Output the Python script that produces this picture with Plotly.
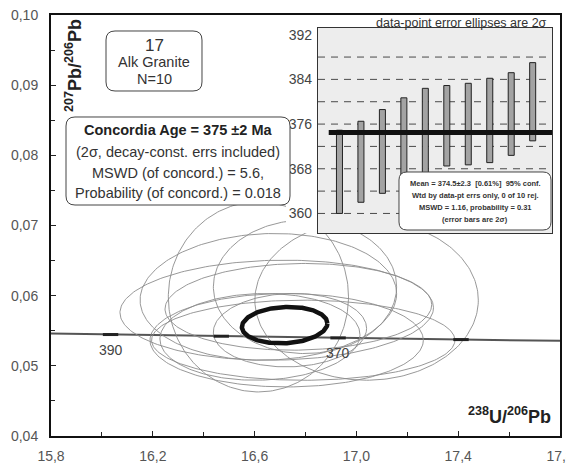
import numpy as np
import plotly.graph_objects as go

# ---------------- data ----------------
x_range = [15.8, 17.8]
y_range = [0.04, 0.10]

# concordia curve (238U/206Pb vs 207Pb/206Pb)
concordia_x = [15.80, 16.034, 16.469, 16.928, 17.411, 17.80]
concordia_y = [0.05460, 0.05446, 0.05422, 0.05398, 0.05374, 0.05356]

# age ticks on concordia (Ma)
age_marks = [390, 380, 370, 360]
age_mark_x = [16.034, 16.469, 16.928, 17.411]
age_mark_y = [0.05446, 0.05422, 0.05398, 0.05374]
labelled_ages = [390, 370]

# data-point 2-sigma error ellipses
ell_cx = [16.615, 17.040, 16.798, 16.654, 16.687, 16.772, 16.791, 16.726, 16.739, 16.621]
ell_cy = [0.05983, 0.05936, 0.06126, 0.05983, 0.05793, 0.05841, 0.05365, 0.05365, 0.05508, 0.05413]
ell_ax = [0.354, 0.439, 0.360, 0.504, 0.616, 0.524, 0.596, 0.537, 0.301, 0.393]
ell_by = [0.01355, 0.01141, 0.00951, 0.00903, 0.00713, 0.00618, 0.00571, 0.00666, 0.00523, 0.00618]
ell_rho = [0.0, 0.0, 0.0, 0.05, 0.05, 0.05, 0.0, 0.0, 0.05, 0.05]

# concordia age ellipse
conc_cx, conc_cy = 16.718, 0.0558
conc_ax, conc_by, conc_rho = 0.168, 0.0026, 0.1

# inset: weighted mean of 206Pb/238U ages (Ma), 2-sigma bars
spot_index = [1, 2, 3, 4, 5, 6, 7, 8, 9, 10]
spot_top = [374.9, 376.5, 378.6, 380.7, 382.4, 382.9, 383.3, 384.2, 385.2, 387.0]
spot_bottom = [360.0, 362.0, 363.6, 366.0, 365.5, 368.5, 368.7, 369.1, 370.4, 373.0]
mean_age = 374.5
inset_x_range = [0, 10.9]
inset_y_range = [356.5, 393.2]
inset_y_ticks = [360, 368, 376, 384, 392]
inset_grid = [360, 364, 368, 372, 376, 380, 384, 388]

# ---------------- helpers (positions given in page pixels) ----------------
OFF = 8                      # default body margin of the html page
W, H = 566, 458
ML, MT = 51 - OFF, 15 - OFF
MR = W - (560 - OFF)
MB = H - (436 - OFF)
PW, PH = W - ML - MR, H - MT - MB


def px(x):
    return (x - OFF - ML) / PW


def py(y):
    return (H - MB - (y - OFF)) / PH


def rrect(x0, y0, x1, y1, r):
    pts = [
        ("M", [(x0 + r, y0)]), ("L", [(x1 - r, y0)]), ("Q", [(x1, y0), (x1, y0 + r)]),
        ("L", [(x1, y1 - r)]), ("Q", [(x1, y1), (x1 - r, y1)]), ("L", [(x0 + r, y1)]),
        ("Q", [(x0, y1), (x0, y1 - r)]), ("L", [(x0, y0 + r)]), ("Q", [(x0, y0), (x0 + r, y0)]),
    ]
    s = ""
    for cmd, ps in pts:
        s += cmd + " " + " ".join(f"{px(a):.5f},{py(b):.5f}" for a, b in ps) + " "
    return s + "Z"


def ellipse(cx, cy, ax, by, rho, n=241):
    t = np.linspace(0, 2 * np.pi, n)
    return cx + ax * np.cos(t), cy + by * (rho * np.cos(t) + np.sqrt(1 - rho ** 2) * np.sin(t))


FONT = "Liberation Sans, Arial, sans-serif"
fig = go.Figure()

# concordia
fig.add_trace(go.Scatter(x=concordia_x, y=concordia_y, mode="lines",
                         line=dict(color="#555555", width=2), hoverinfo="skip", showlegend=False))
# ellipses
for cx, cy, ax, by, rho in zip(ell_cx, ell_cy, ell_ax, ell_by, ell_rho):
    ex, ey = ellipse(cx, cy, ax, by, rho)
    fig.add_trace(go.Scatter(x=ex, y=ey, mode="lines", line=dict(color="#8c8c8c", width=0.9),
                             hoverinfo="skip", showlegend=False))
ex, ey = ellipse(conc_cx, conc_cy, conc_ax, conc_by, conc_rho)
fig.add_trace(go.Scatter(x=ex, y=ey, mode="lines", line=dict(color="#111111", width=4.5),
                         hoverinfo="skip", showlegend=False))
# age marks
fig.add_trace(go.Scatter(x=age_mark_x, y=age_mark_y, mode="markers",
                         marker=dict(symbol="line-ew-open", size=11, color="#222222",
                                     line=dict(color="#222222", width=3)),
                         hoverinfo="skip", showlegend=False))

# backdrop subplot (white cover behind inset)
fig.add_trace(go.Scatter(x=[None], y=[None], xaxis="x2", yaxis="y2", showlegend=False, hoverinfo="skip"))

# inset bars
fig.add_trace(go.Bar(x=spot_index, base=spot_bottom,
                     y=[t - b for t, b in zip(spot_top, spot_bottom)],
                     width=0.28, xaxis="x3", yaxis="y3",
                     marker=dict(color="#a3a3a3", line=dict(color="#222222", width=1)),
                     hoverinfo="skip", showlegend=False))
fig.add_trace(go.Scatter(x=[0.5, inset_x_range[1]], y=[mean_age, mean_age], mode="lines",
                         xaxis="x3", yaxis="y3", line=dict(color="#111111", width=5),
                         hoverinfo="skip", showlegend=False))

shapes = []
shapes.append(dict(type="rect", xref="x3", yref="y3", x0=inset_x_range[0], x1=inset_x_range[1],
                   y0=inset_y_range[0], y1=inset_y_range[1], fillcolor="#ededed",
                   line=dict(width=0), layer="below"))
for g in inset_grid:
    shapes.append(dict(type="line", xref="x3", yref="y3", x0=inset_x_range[0], x1=inset_x_range[1],
                       y0=g, y1=g, line=dict(color="#4a4a4a", width=1, dash="7px,6px"), layer="below"))
# boxes
shapes.append(dict(type="path", xref="paper", yref="paper", path=rrect(106, 31, 202, 91, 9),
                   fillcolor="white", line=dict(color="#444444", width=1), layer="above"))
shapes.append(dict(type="path", xref="paper", yref="paper", path=rrect(66, 117, 290, 205, 9),
                   fillcolor="white", line=dict(color="#444444", width=1), layer="above"))
shapes.append(dict(type="path", xref="paper", yref="paper", path=rrect(399, 172, 551, 230, 8),
                   fillcolor="white", line=dict(color="#444444", width=1), layer="above"))

ann = []


def text(x, y, s, size, bold=False, xanchor="center", color="#333333", angle=0):
    ann.append(dict(x=px(x), y=py(y), xref="paper", yref="paper", text=(f"<b>{s}</b>" if bold else s),
                    showarrow=False, xanchor=xanchor, yanchor="middle", textangle=angle,
                    font=dict(family=FONT, size=size, color=color)))


# sample box
text(154, 45, "17", 17)
text(154, 62, "Alk Granite", 14.5)
text(154, 79, "N=10", 14.5)
# concordia box
text(178, 130, "Concordia Age = 375 ±2 Ma", 14.5, bold=True, color="#222222")
text(178, 152, "(2σ, decay-const. errs included)", 14.5)
text(178, 173, "MSWD (of concord.) = 5.6,", 14.5)
text(178, 193, "Probability (of concord.) = 0.018", 14.5)
# axis titles
text(74, 66, "<sup>207</sup>Pb/<sup>206</sup>Pb", 18, bold=True, color="#222222", angle=-90)
text(553, 415, "<sup>238</sup>U/<sup>206</sup>Pb", 18, bold=True, color="#222222", xanchor="right")
# inset title and stats
text(549, 23, "data-point error ellipses are 2σ", 12.5, xanchor="right")
inset_lines = ["Mean = 374.5±2.3  [0.61%]  95% conf.",
               "Wtd by data-pt errs only, 0 of 10 rej.",
               "MSWD = 1.16, probability = 0.31",
               "(error bars are 2σ)"]
for i, s in enumerate(inset_lines):
    text(475, 183 + 12.3 * i, s, 7.5, bold=True, color="#333333")

# age labels
for a, xv, yv in zip(age_marks, age_mark_x, age_mark_y):
    if a in labelled_ages:
        ann.append(dict(x=xv, y=yv, xref="x", yref="y", text=str(a), showarrow=False,
                        yshift=-15, font=dict(family=FONT, size=14, color="#444444")))

fig.update_layout(
    width=W, height=H, autosize=False,
    margin=dict(l=ML, r=MR, t=MT, b=MB, pad=0, autoexpand=False),
    paper_bgcolor="white", plot_bgcolor="white",
    separators=",.",
    font=dict(family=FONT, size=14, color="#444444"),
    showlegend=False,
    shapes=shapes, annotations=ann,
    xaxis=dict(range=x_range, dtick=0.4, tick0=15.8, tickformat=".1f", ticks="inside", ticklen=5,
               tickwidth=1, tickcolor="#222222", showline=True, mirror=True, linecolor="#111111",
               linewidth=2, showgrid=False, zeroline=False, ticklabelstandoff=6, automargin=False,
               ticklabeloverflow="allow", tickfont=dict(size=14, color="#555555"),
               minor=dict(dtick=0.2, ticks="inside", ticklen=4, tickcolor="#222222", showgrid=False)),
    yaxis=dict(range=y_range, dtick=0.01, tick0=0.04, tickformat=".2f", ticks="inside", ticklen=5,
               tickwidth=1, tickcolor="#222222", showline=True, mirror=True, linecolor="#111111",
               linewidth=2, showgrid=False, zeroline=False, ticklabelstandoff=8, automargin=False,
               ticklabeloverflow="allow", tickfont=dict(size=14, color="#555555"),
               minor=dict(dtick=0.005, ticks="inside", ticklen=4, tickcolor="#222222", showgrid=False)),
    xaxis2=dict(domain=[px(286), 1.0], range=[0, 1], visible=False, anchor="y2", automargin=False),
    yaxis2=dict(domain=[py(233), 1.0], range=[0, 1], visible=False, anchor="x2", automargin=False),
    xaxis3=dict(domain=[px(318), px(552)], range=inset_x_range, anchor="y3", showticklabels=False,
                ticks="", showline=True, mirror=True, linecolor="#333333", linewidth=1.2,
                showgrid=False, zeroline=False, automargin=False),
    yaxis3=dict(domain=[py(233), py(28)], range=inset_y_range, anchor="x3", tickvals=inset_y_ticks,
                ticks="", showline=True, mirror=True, linecolor="#333333", linewidth=1.2,
                showgrid=False, zeroline=False, ticklabelstandoff=2, automargin=False,
                tickfont=dict(size=14, color="#444444")),
)

fig.write_html("out.html")
